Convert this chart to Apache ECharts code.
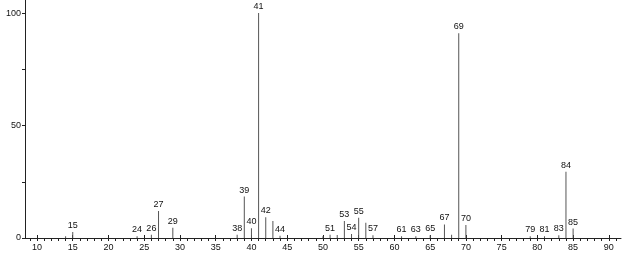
<!DOCTYPE html>
<html><head><meta charset="utf-8">
<script src="https://cdn.jsdelivr.net/npm/echarts@6/dist/echarts.min.js"></script>
<style>html,body{margin:0;padding:0;background:#fff}#c{width:623px;height:254px}</style>
</head><body><div id="c"></div>
<script>
const masses =      [14, 15, 24, 26, 27, 29, 38, 39, 40, 41, 42, 43, 44, 50, 51, 52, 53, 54, 55, 56, 57, 61, 63, 65, 67, 68, 69, 70, 79, 81, 83, 84, 85];
const intensities = [0.8,2.7,0.8,1.5,12, 4.6,1.5,18.4,4.3,100,9.2,7.6,1.0,0.8,1.5,1.3,7.6,1.8,9.0,6.8,1.2,0.8,0.8,1.2,6.0,1.5,91, 5.8,0.8,0.8,1.2,29.5,4.2];
const labeledMasses = [15,24,26,27,29,38,39,40,41,42,44,51,53,54,55,57,61,63,65,67,69,70,79,81,83,84,85];
const xTickLabels = [10,15,20,25,30,35,40,45,50,55,60,65,70,75,80,85,90];
const xMinorTicks = [];
for (let m = 9; m <= 91; m++) xMinorTicks.push(m);
const yTickLabels = [0,50,100];
const yTicks = [0,25,50,75,100];

const chart = echarts.init(document.getElementById('c'), null, {renderer:'canvas'});
const xMin = 8.32, xMax = 91.7;
chart.setOption({
  animation:false,
  backgroundColor:'#fff',
  grid:{left:25,right:2,top:0,bottom:16,containLabel:false},
  xAxis:[{
    type:'value',min:xMin,max:xMax,
    axisLine:{show:true,lineStyle:{color:'#222',width:1}},
    axisTick:{show:true,customValues:xMinorTicks,length:3,lineStyle:{color:'#222'}},
    axisLabel:{show:true,customValues:xTickLabels,fontSize:9,color:'#111',margin:5,fontFamily:'Liberation Sans'},
    splitLine:{show:false}
  },{
    type:'value',min:xMin,max:xMax,position:'bottom',
    axisLine:{show:false},
    axisTick:{show:true,inside:true,customValues:xTickLabels,length:3,lineStyle:{color:'#222'}},
    axisLabel:{show:false},
    splitLine:{show:false}
  }],
  yAxis:{
    type:'value',min:0,max:105.8,
    axisLine:{show:true,lineStyle:{color:'#222',width:1}},
    axisTick:{show:true,customValues:yTicks,length:3,lineStyle:{color:'#222'}},
    axisLabel:{show:true,customValues:yTickLabels,fontSize:9,color:'#111',margin:4,fontFamily:'Liberation Sans'},
    splitLine:{show:false}
  },
  series:[{
    type:'bar',
    xAxisIndex:0,
    barWidth:1,
    data:masses.map((m,i)=>[m,intensities[i]]),
    itemStyle:{color:'#555'},
    label:{
      show:true,position:'top',distance:2,fontSize:9,color:'#111',fontFamily:'Liberation Sans',
      formatter:p=> labeledMasses.includes(p.value[0]) ? String(p.value[0]) : ''
    }
  }]
});
</script></body></html>
